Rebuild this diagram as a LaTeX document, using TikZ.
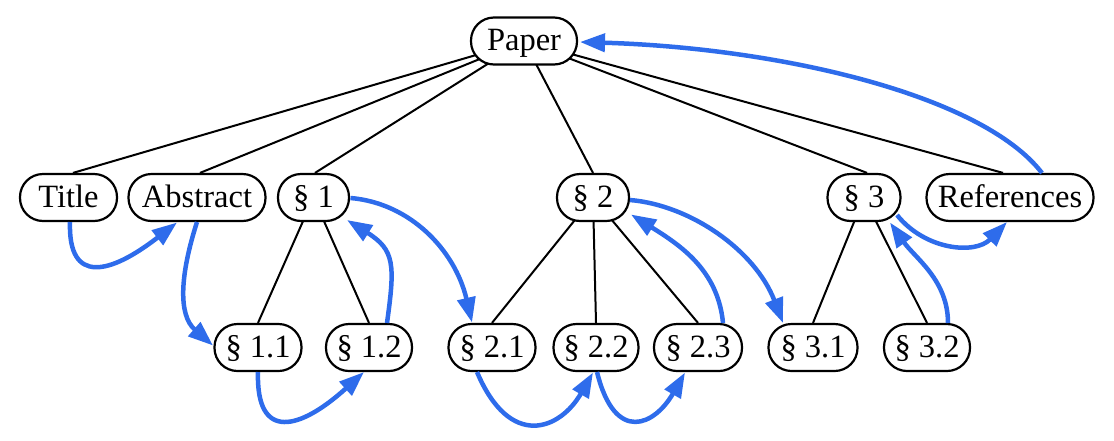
\documentclass[tikz,border=0pt]{standalone}
\usepackage{fontspec}
\setmainfont{Liberation Serif}
\usetikzlibrary{arrows.meta,backgrounds}
\definecolor{flowblue}{RGB}{46,108,235}
\begin{document}
\begin{tikzpicture}[x=1pt,y=-1pt,
  box/.style={draw, fill=white, rectangle, rounded corners=23pt, line width=2.2pt,
    minimum height=47pt, inner xsep=4pt, inner ysep=0pt,
    font=\fontsize{32.5}{38}\selectfont, text height=26pt, text depth=7pt},
  tree/.style={line width=2pt},
  flow/.style={draw=flowblue, line width=4.5pt, -{Triangle[length=25pt,width=18pt]}}
]
\useasboundingbox (0,0) rectangle (1114,440);
% nodes
\node[box,minimum width=106pt] (P)   at (524,41)    {Paper};
\node[box,minimum width=97pt]  (T)   at (68.5,197.5) {Title};
\node[box,minimum width=137pt] (A)   at (197,197.5) {Abstract};
\node[box,minimum width=71pt]  (S1)  at (313.5,197.5) {§ 1};
\node[box,minimum width=72pt]  (S2)  at (593,197.5) {§ 2};
\node[box,minimum width=73pt]  (S3)  at (864,197.5) {§ 3};
\node[box,minimum width=167pt] (R)   at (1010,197.5) {References};
\node[box,minimum width=87pt]  (S11) at (258,347.5) {§ 1.1};
\node[box,minimum width=86pt]  (S12) at (369,347.5) {§ 1.2};
\node[box,minimum width=87pt]  (S21) at (492,347.5) {§ 2.1};
\node[box,minimum width=85pt]  (S22) at (596,347.5) {§ 2.2};
\node[box,minimum width=88pt]  (S23) at (698,347.5) {§ 2.3};
\node[box,minimum width=89pt]  (S31) at (813,347.5) {§ 3.1};
\node[box,minimum width=86pt]  (S32) at (927,347.5) {§ 3.2};
% tree edges
\begin{scope}[on background layer]
\draw[tree] (P.center) -- ([xshift=4.5pt]T.north);
\draw[tree] (P.center) -- ([xshift=3pt]A.north);
\draw[tree] (P.center) -- ([xshift=1.5pt]S1.north);
\draw[tree] (P.center) -- (S2.north);
\draw[tree] (P.center) -- ([xshift=3pt]S3.north);
\draw[tree] (P.center) -- ([xshift=-7pt]R.north);
\draw[tree] (S1.center) -- (S11.north);
\draw[tree] (S1.center) -- (S12.north);
\draw[tree] (S2.center) -- (S21.north);
\draw[tree] (S2.center) -- (S22.north);
\draw[tree] (S2.center) -- (S23.north);
\draw[tree] (S3.center) -- (S31.north);
\draw[tree] (S3.center) -- (S32.north);
\end{scope}
% reading-order arrows
\draw[flow] ([shift={(1.5,24.5)}]T.center) .. controls +(-2,63) and +(-67,52) .. ([shift={(-20,25)}]A.center);
\draw[flow] ([shift={(0,24.5)}]A.center) .. controls +(-17,53) and +(-35,-30.5) .. ([shift={(-45,-2)}]S11.center);
\draw[flow] ([shift={(0,24.5)}]S11.center) .. controls +(-2,70) and +(-64,58) .. ([shift={(-5,24.5)}]S12.center);
\draw[flow] ([shift={(18,-24.5)}]S12.center) .. controls +(8,-58) and +(48,30) .. ([shift={(33.5,22.5)}]S1.center);
\draw[flow] ([shift={(37,0.5)}]S1.center) .. controls +(59.5,5) and +(-17,-72.5) .. ([shift={(-20,-25)}]S21.center);
\draw[flow] ([shift={(-15,24.5)}]S21.center) .. controls +(33,78) and +(-33,57.5) .. ([shift={(-3,25)}]S22.center);
\draw[flow] ([shift={(1,24.5)}]S22.center) .. controls +(18,73) and +(-30,52.5) .. ([shift={(-13,25)}]S23.center);
\draw[flow] ([shift={(25,-24.5)}]S23.center) .. controls +(-5,-53) and +(49,30.5) .. ([shift={(38,17)}]S2.center);
\draw[flow] ([shift={(37,2.5)}]S2.center) .. controls +(60,5) and +(-28,-73) .. ([shift={(-30,-24.5)}]S31.center);
\draw[flow] ([shift={(21,-24.5)}]S32.center) .. controls +(0,-43) and +(25,35.5) .. ([shift={(26,25)}]S3.center);
\draw[flow] ([shift={(33,17.5)}]S3.center) .. controls +(28,35) and +(-32,33) .. ([shift={(-3,24.5)}]R.center);
\draw[flow] ([shift={(32,-24.5)}]R.center) .. controls +(-60,-78) and +(200,6) .. ([shift={(56,1)}]P.center);
\end{tikzpicture}
\end{document}
